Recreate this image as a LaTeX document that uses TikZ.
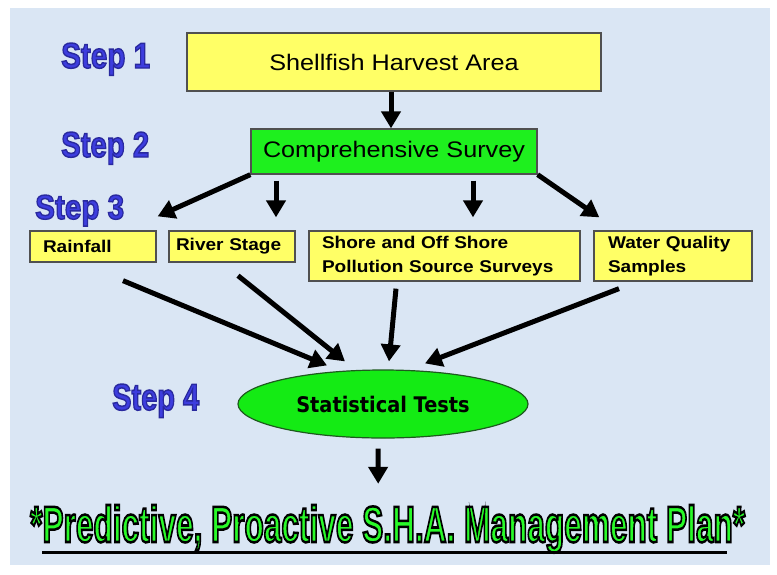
\documentclass[tikz,border=0pt]{standalone}
\usepackage{fontspec}
\setmainfont{Liberation Sans}[FakeStretch=1.12]
\newfontfamily\titlefont{Liberation Sans Bold}[FakeBold=5]
\newfontfamily\stepfont{Liberation Sans Bold}[FakeBold=4]
\newfontfamily\statfont{DejaVu Sans}[FakeStretch=0.9]
\usetikzlibrary{arrows.meta,shapes.geometric}
\definecolor{bgblue}{RGB}{218,230,244}
\definecolor{boxyellow}{RGB}{255,255,102}
\definecolor{boxgreen}{RGB}{30,240,30}
\definecolor{ellgreen}{RGB}{20,235,20}
\definecolor{ellborder}{RGB}{30,90,30}
\definecolor{boxedge}{RGB}{80,80,80}
% fill colour / stroke colour pairs for outlined text
\newcommand{\mystep}[1]{\special{pdf:bcolor [0.24 0.24 0.87] [0.16 0.16 0.62]}{\fontsize{34}{34}\stepfont #1}\special{pdf:ecolor}}
\newcommand{\mytitle}[1]{\special{pdf:bcolor [0.16 0.98 0.16] [0 0 0]}{\fontsize{40}{40}\titlefont #1}\special{pdf:ecolor}}
\tikzset{
  bigbox/.style={draw=boxedge, line width=1.3pt, inner sep=0pt, font=\fontsize{22.5}{26}\selectfont},
  smallbox/.style={draw=boxedge, fill=boxyellow, line width=1.3pt, inner ysep=0pt, align=left,
     font=\fontsize{17}{24}\selectfont\bfseries},
  flowarrow/.style={line width=5pt, -{Triangle[width=19pt,length=17pt]}},
  steplabel/.style={anchor=base west, inner sep=0pt},
}
\begin{document}
\begin{tikzpicture}[x=1pt,y=-1pt]
\useasboundingbox (0,0) rectangle (777,574);
\fill[bgblue] (10,8) rectangle (770,565);

% step labels
\node[steplabel] (s1) at (61,68) {\resizebox{89pt}{25pt}{\mystep{Step 1}}};
\node[steplabel] (s2) at (61,157) {\resizebox{88pt}{25pt}{\mystep{Step 2}}};
\node[steplabel] (s3) at (35,219) {\resizebox{89pt}{24pt}{\mystep{Step 3}}};
\node[steplabel] (s4) at (112,410) {\resizebox{87pt}{26pt}{\mystep{Step 4}}};

% boxes
\node[bigbox, fill=boxyellow, minimum width=414pt, minimum height=58pt] (shell) at (394,62) {Shellfish Harvest Area};
\node[bigbox, fill=boxgreen, minimum width=286pt, minimum height=45pt] (comp) at (394,151.5) {Comprehensive Survey};

\node[smallbox, minimum height=31pt, inner xsep=13pt, text width=100pt] (rain) at (93,246.5) {Rainfall};
\node[smallbox, minimum height=31pt, inner xsep=7pt, text width=112pt] (river) at (232,246.5) {River Stage};
\node[smallbox, minimum height=50pt, inner xsep=13pt, text width=245pt] (shore) at (444.5,256) {Shore and Off Shore\\Pollution Source Surveys};
\node[smallbox, minimum height=50pt, inner xsep=14pt, text width=130pt] (water) at (673,256) {Water Quality\\Samples};

\node[ellipse, draw=ellborder, fill=ellgreen, line width=1.2pt, minimum width=290pt, minimum height=68pt, inner sep=0pt,
      font=\statfont\bfseries\fontsize{21.5}{24}\selectfont] (stat) at (383,404) {Statistical Tests};

% title
\node[anchor=base west, inner sep=0pt] (title) at (30,542)
  {\resizebox{715pt}{37pt}{\mytitle{*Predictive, Proactive S.H.A. Management Plan*}}};
\draw[line width=3pt] ([shift={(12pt,-10pt)}]title.base west) -- ([shift={(-18pt,-10pt)}]title.base east);

% arrows
\draw[flowarrow] ([xshift=-3pt]shell.south) -- ([xshift=-3pt]comp.north);
\draw[flowarrow] (comp.south west) -- ([shift={(1pt,14pt)}]rain.north east);
\draw[flowarrow] ([shift={(-118pt,-6pt)}]comp.south) -- ([shift={(44pt,13pt)}]river.north);
\draw[flowarrow] ([shift={(79pt,-6pt)}]comp.south) -- ([shift={(28.5pt,13pt)}]shore.north);
\draw[flowarrow] (comp.south east) -- ([shift={(6pt,13pt)}]water.north west);

\draw[flowarrow] ([shift={(30pt,-18pt)}]rain.south) -- ([shift={(-56pt,4pt)}]stat.north);
\draw[flowarrow] ([shift={(6pt,-13pt)}]river.south) -- ([shift={(-38pt,8pt)}]stat.north);
\draw[flowarrow] ([shift={(-48.5pt,-7pt)}]shore.south) -- ([shift={(6pt,8pt)}]stat.north);
\draw[flowarrow] ([shift={(-54pt,-7pt)}]water.south) -- ([shift={(42pt,6pt)}]stat.north);

\draw[flowarrow] ([shift={(-5pt,-10pt)}]stat.south) -- ([shift={(-9.5pt,21pt)}]title.north);
\end{tikzpicture}
\end{document}
